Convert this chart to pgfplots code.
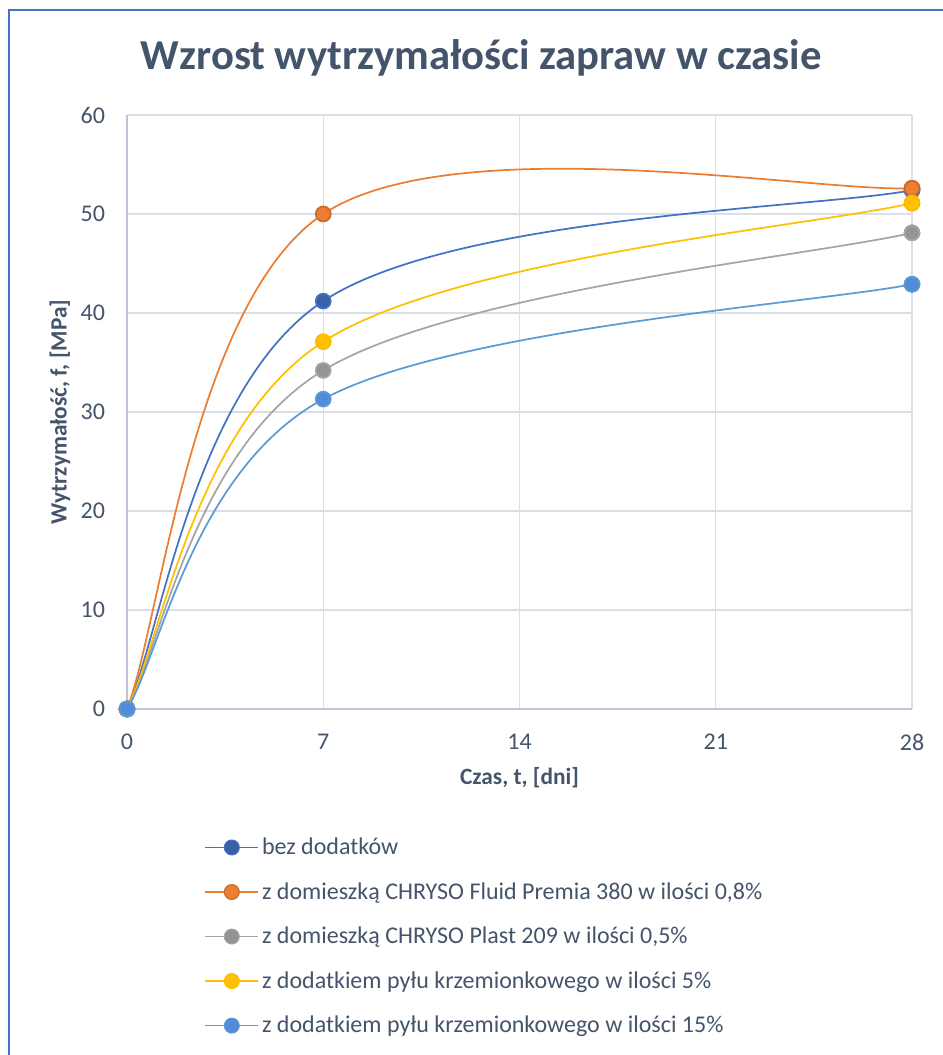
\documentclass[border=0pt]{standalone}
\usepackage{pgfplots}
\pgfplotsset{compat=1.18}
\usepackage{fontspec}
\setmainfont{Carlito}
\definecolor{txt}{HTML}{44546A}
\definecolor{frame}{HTML}{4472C4}
\definecolor{gridc}{HTML}{D9DEE8}
\definecolor{axc}{HTML}{BCC6D6}
\definecolor{cblue}{HTML}{4472C4}
\definecolor{corange}{HTML}{ED7D31}
\definecolor{cgray}{HTML}{A5A5A5}
\definecolor{cyellow}{HTML}{FFC000}
\definecolor{clblue}{HTML}{5B9BD5}
\newcommand{\leg}[3]{\draw[draw=#1, line width=1.3pt] (0pt,0pt) -- (40pt,0pt);
  \filldraw[fill=#2, draw=#3, line width=0.8pt] (20pt,0pt) circle (5.6pt);}
\begin{document}
\begin{tikzpicture}
\path[use as bounding box] (0pt,0pt) rectangle (706.5pt,791.25pt);
\draw[frame, line width=1.3pt] (6.75pt,-20pt) -- (6.75pt,783.75pt) -- (740pt,783.75pt);
\node[text=txt, font=\fontsize{32}{36}\bfseries] at (361pt,748pt) {Wzrost wytrzymałości zapraw w czasie};
\begin{axis}[
  at={(95.25pt,259.5pt)}, anchor=south west,
  scale only axis, width=588.75pt, height=445.5pt,
  xmin=0, xmax=28, ymin=0, ymax=60,
  xtick={0,7,14,21,28}, ytick={0,10,20,30,40,50,60},
  axis lines=left, axis line style={-, axc, line width=0.8pt},
  grid=major, major grid style={gridc, line width=0.8pt},
  major tick length=0pt,
  clip=true, clip marker paths=false,
  /pgf/number format/assume math mode=true,
  tick label style={text=txt, font=\fontsize{18}{21}\selectfont},
  xticklabel style={yshift=-15pt},
  yticklabel style={xshift=-13pt},
  xlabel={Czas, t, [dni]}, ylabel={Wytrzymałość, f, [MPa]},
  label style={text=txt, font=\fontsize{17.5}{21}\bfseries},
  xlabel style={at={(axis description cs:0.5,-0.116)}, anchor=center},
  ylabel style={at={(axis description cs:-0.0854,0.5)}, anchor=center},
  every axis plot/.append style={line width=1.3pt, smooth, tension=0.6, mark=*, mark size=5.6pt, mark options={solid}},
  legend style={at={(axis description cs:0.093,-0.208)}, anchor=north west, draw=none, fill=none,
    font=\fontsize{18}{21}\selectfont, text=txt, row sep=15.4pt, cells={anchor=west}},
]
\addplot[cblue, mark options={fill=cblue!85!black, draw=cblue}, legend image code/.code={\leg{cblue}{cblue!85!black}{cblue}}] coordinates {(0,0) (0,0) (7,41.2) (28,52.4) (28,52.4)};
\addlegendentry{bez dodatków}
\addplot[corange, mark options={fill=corange, draw=corange!85!black}, legend image code/.code={\leg{corange}{corange}{corange!85!black}}] coordinates {(0,0) (0,0) (7,50.0) (28,52.6) (28,52.6)};
\addlegendentry{z domieszką CHRYSO Fluid Premia 380 w ilości 0,8\%}
\addplot[cgray, mark options={fill=cgray!90!black, draw=cgray}, legend image code/.code={\leg{cgray}{cgray!90!black}{cgray}}] coordinates {(0,0) (0,0) (7,34.2) (28,48.1) (28,48.1)};
\addlegendentry{z domieszką CHRYSO Plast 209 w ilości 0,5\%}
\addplot[cyellow, mark options={fill=cyellow, draw=cyellow!90!orange}, legend image code/.code={\leg{cyellow}{cyellow}{cyellow!90!orange}}] coordinates {(0,0) (0,0) (7,37.1) (28,51.1) (28,51.1)};
\addlegendentry{z dodatkiem pyłu krzemionkowego w ilości 5\%}
\addplot[clblue, mark options={fill=clblue!90!blue, draw=clblue}, legend image code/.code={\leg{clblue}{clblue!90!blue}{clblue}}] coordinates {(0,0) (0,0) (7,31.3) (28,42.9) (28,42.9)};
\addlegendentry{z dodatkiem pyłu krzemionkowego w ilości 15\%}
\end{axis}
\end{tikzpicture}
\end{document}
